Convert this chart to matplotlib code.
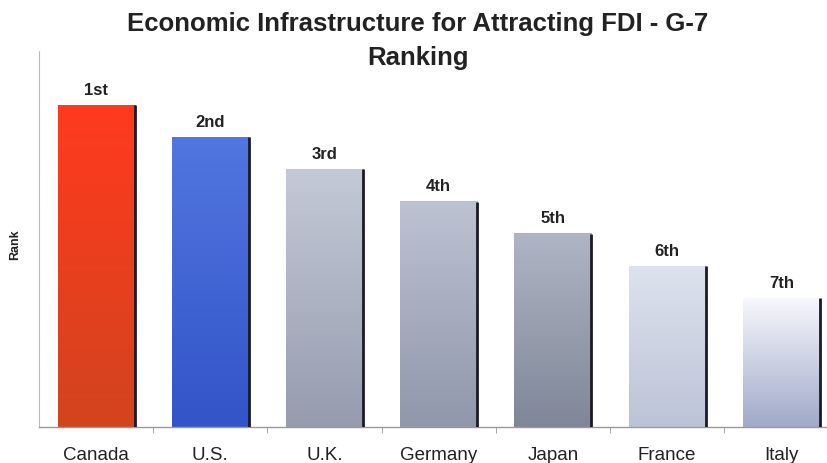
import numpy as np
import matplotlib
matplotlib.use('Agg')
from matplotlib import pyplot as plt
from matplotlib.colors import LinearSegmentedColormap

countries = ['Canada', 'U.S.', 'U.K.', 'Germany', 'Japan', 'France', 'Italy']
ranks = ['1st', '2nd', '3rd', '4th', '5th', '6th', '7th']
scores = [100, 90, 80, 70, 60, 50, 40]
top_colors = ['#ff3a1e', '#5276e0', '#c4c9d7', '#bcc2d2', '#afb5c4', '#dde2ee', '#f7f8fc']
bottom_colors = ['#d2441f', '#3254c8', '#969cae', '#9097aa', '#7f8697', '#bcc3d6', '#a0a9c8']

plt.rcParams['font.family'] = ['Liberation Sans', 'DejaVu Sans']

fig = plt.figure(figsize=(8.27, 4.64), dpi=100)
ax = fig.add_axes([39 / 827, 36 / 464, (827 - 39) / 827, (428 - 52) / 464])

x = np.arange(len(countries))
width = 0.675
bars = ax.bar(x, scores, width, color='none', edgecolor='none')

grad = np.linspace(0, 1, 256).reshape(-1, 1)
for i, b in enumerate(bars):
    x0, h = b.get_x(), b.get_height()
    x1 = x0 + b.get_width()
    cmap = LinearSegmentedColormap.from_list('g%d' % i, [bottom_colors[i], top_colors[i]])
    ax.imshow(grad, extent=[x0, x1, 0, h], origin='lower', aspect='auto',
              cmap=cmap, zorder=2)
    ax.vlines(x1, 0, h, color='#1b1b26', lw=2, zorder=3)
    ax.text(b.get_x() + b.get_width() / 2, h + 2.6, ranks[i], ha='center',
            va='bottom', fontsize=12, fontweight='bold', color='#222222')

ax.set_xlim(-0.5, -0.5 + (827 - 39) / 114.2)
ax.set_ylim(0, 376 / 3.22)

ax.set_xticks(x)
ax.set_xticklabels(countries, fontsize=13.5, color='#222222')
ax.tick_params(axis='x', length=0, pad=14)
ax.set_xticks(x[:-1] + 0.5, minor=True)
ax.tick_params(axis='x', which='minor', length=4, color='#999999')
ax.set_yticks([])
for s in ['top', 'right']:
    ax.spines[s].set_visible(False)
ax.spines['left'].set_color('#bbbbbb')
ax.spines['bottom'].set_color('#999999')
ax.spines['left'].set_linewidth(0.8)
ax.spines['bottom'].set_linewidth(1.0)

fig.text(418 / 827, 1 - 12 / 464, 'Economic Infrastructure for Attracting FDI - G-7\nRanking',
         ha='center', va='top', fontsize=18.5, fontweight='bold', color='#222222',
         linespacing=1.5)
fig.text(15 / 827, 1 - 245 / 464, 'Rank', rotation=90, ha='center', va='center',
         fontsize=9, fontweight='bold', color='#222222',
         family=['Liberation Sans Narrow', 'Liberation Sans'])

fig.savefig('out.png', dpi=100)
